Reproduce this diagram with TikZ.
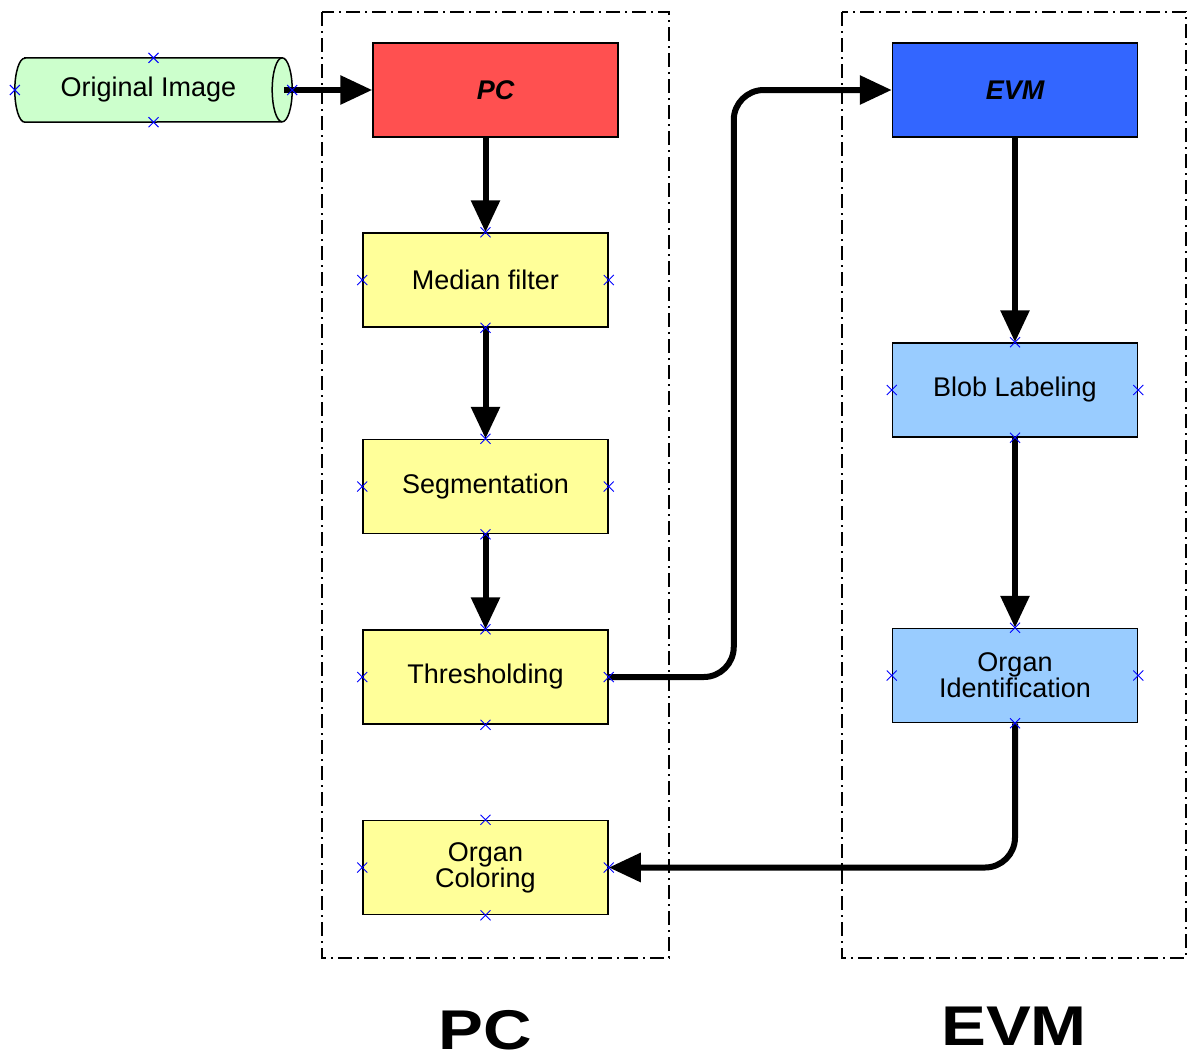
\documentclass[tikz,border=0pt]{standalone}
\usepackage{fontspec}
\setmainfont{Liberation Sans}
\usepackage{tikz}
\usetikzlibrary{arrows.meta,shapes.misc,positioning}

\definecolor{pcred}{HTML}{FF5050}
\definecolor{evmblue}{HTML}{3366FF}
\definecolor{stepyellow}{HTML}{FFFF99}
\definecolor{steplblue}{HTML}{99CCFF}
\definecolor{imggreen}{HTML}{CCFFCC}

\begin{document}
\begin{tikzpicture}[x=1pt,y=-1pt,>={Triangle[length=32pt,width=28pt]},
  box/.style={draw,line width=1.5pt,minimum width=245pt,minimum height=94pt,
    inner sep=0pt,align=center,font=\fontsize{27}{26}\selectfont},
  pcbox/.style={box,fill=stepyellow},
  evmbox/.style={box,fill=steplblue},
  headbox/.style={box,font=\fontsize{27}{26}\selectfont\bfseries\itshape},
  flow/.style={->,line width=6pt},
  group/.style={draw,line width=2pt,dash pattern=on 14pt off 5pt on 2pt off 5pt},
  xmark/.style={cross out,draw=blue,line width=1pt,minimum size=9pt,inner sep=0pt},
  biglabel/.style={anchor=base,inner sep=0pt,font=\fontsize{56}{58}\selectfont\bfseries}]
  \useasboundingbox (0,0) rectangle (1188,1061);

  % groups
  \draw[group] (322,12) rectangle (669,958);
  \draw[group] (842,12) rectangle (1186,958);
  \node[biglabel] (pclbl) at (485,1049) {\scalebox{1.2}[1]{PC}};
  \node[biglabel] (evmlbl) at (1014,1045) {\scalebox{1.2}[1]{EVM}};

  % input (cylinder drawn by hand)
  \node[minimum width=277pt,minimum height=64pt,inner sep=0pt] (orig) at (153.5,90) {};
  \draw[fill=imggreen,line width=1.5pt]
    ([xshift=10pt]orig.north west) -- ([xshift=-10pt]orig.north east)
    arc[start angle=90,end angle=-90,x radius=10pt,y radius=32pt]
    -- ([xshift=10pt]orig.south west)
    arc[start angle=270,end angle=90,x radius=10pt,y radius=32pt] -- cycle;
  \draw[line width=1.5pt] ([xshift=-10pt]orig.north east)
    arc[start angle=90,end angle=270,x radius=10pt,y radius=32pt];
  \node[font=\fontsize{27}{26}\selectfont] (origtext) at ([xshift=-5pt]orig.center) {Original Image};

  % PC column
  \node[headbox,fill=pcred] (pc) at (495.5,90) {PC};
  \node[pcbox] (median) at (485.5,280) {Median filter};
  \node[pcbox] (seg) [below=111pt of median] {Segmentation};
  \node[pcbox] (thresh) [below=95pt of seg] {Thresholding};
  \node[pcbox] (coloring) [below=95pt of thresh] {Organ\\Coloring};

  % EVM column
  \node[headbox,fill=evmblue] (evm) at (1015,90) {EVM};
  \node[evmbox] (blob) at (1015,390) {Blob Labeling};
  \node[evmbox] (ident) [below=190pt of blob] {Organ\\Identification};

  \draw[flow] ([xshift=-8pt]orig.east) -- (pc.west);
  \draw[flow] (pc.south -| median.north) -- (median.north);
  \draw[flow] (median) -- (seg);
  \draw[flow] (seg) -- (thresh);
  \draw[flow,rounded corners=30pt] (thresh.east) -- ++(125,0) |- (evm.west);
  \draw[flow] (evm) -- (blob);
  \draw[flow] (blob) -- (ident);
  \draw[flow,rounded corners=30pt] (ident.south) |- (coloring.east);

  % connection points
  \foreach \n in {orig,median,seg,thresh,coloring,blob,ident}
    \foreach \a in {north,south,east,west}
      \node[xmark] at (\n.\a) {};
\end{tikzpicture}
\end{document}
